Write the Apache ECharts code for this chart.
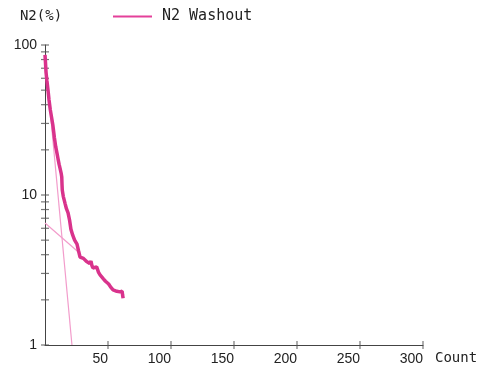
<!DOCTYPE html>
<html>
<head>
<meta charset="utf-8">
<script src="https://cdn.jsdelivr.net/npm/echarts@6/dist/echarts.min.js"></script>
<style>html,body{margin:0;padding:0;background:#fff}#c{width:482px;height:369px}</style>
</head>
<body>
<div id="c"></div>
<script>
// Data
var washCount = [0,0.4,0.8,1.5,2.4,3.2,4.2,5.2,6.3,7.5,8.5,9.5,10.3,11.2,12.0,12.8,13.3,13.5,13.7,14.5,15.9,17.0,18.3,19.5,20.6,22.0,23.5,25.4,26.6,27.8,29.0,30.5,31.7,33.0,34.1,35.5,36.5,37.2,38.0,39.5,41.0,42.5,43.7,45.0,46.5,48.0,49.0,50.5,52.0,53.0,54.0,55.5,57.0,58.5,59.5,60.5,61.2,61.6,62.0];
var washN2 =    [86,76,66,58,50,43,37,33,29,24,21,19,17.5,16,15,14,13.2,11.8,10.8,9.8,8.8,8.1,7.6,6.8,5.9,5.4,5.0,4.7,4.25,3.86,3.82,3.78,3.8,3.6,3.52,3.5,3.62,3.4,3.26,3.22,3.32,3.05,2.93,2.85,2.75,2.66,2.59,2.55,2.44,2.42,2.33,2.35,2.28,2.3,2.26,2.32,2.28,2.15,2.05];
var fastCount = [0, 21.4];
var fastN2 = [86, 1];
var slowCount = [0, 26];
var slowN2 = [6.5, 4.2];
var xTickValues = [50,100,150,200,250,300];
var yTickValues = [1,2,3,4,5,6,7,8,9,10,20,30,40,50,60,70,80,90,100];

function zip(a,b){return a.map(function(v,i){return [v,b[i]];});}

var chart = echarts.init(document.getElementById('c'));
var txt = '#222';
chart.setOption({
  animation:false,
  backgroundColor:'#fff',
  grid:{left:45,right:59,top:45,bottom:24},
  legend:{
    data:['N2 Washout'], left:113, top:9, padding:0,
    icon:'rect', itemWidth:39, itemHeight:2, itemGap:10,
    textStyle:{fontFamily:'DejaVu Sans Mono', fontSize:15, color:txt, padding:[0,0,0,5]}
  },
  xAxis:{
    type:'value', min:0, max:300, interval:50,
    name:'Count', nameLocation:'end', nameGap:12,
    nameTextStyle:{fontFamily:'DejaVu Sans Mono', fontSize:14, color:txt, verticalAlign:'top', padding:[6,0,0,0]},
    axisLine:{lineStyle:{color:'#444',width:1}},
    axisTick:{show:false}, splitLine:{show:false},
    axisLabel:{fontFamily:'Liberation Sans', fontSize:14, color:txt, align:'right', margin:7,
      formatter:function(v){return v===0?'':String(v);}}
  },
  yAxis:{
    type:'log', logBase:10, min:1, max:100,
    name:'N2(%)', nameLocation:'end', nameGap:22,
    nameTextStyle:{fontFamily:'DejaVu Sans Mono', fontSize:14, color:txt, padding:[0,8,0,0]},
    axisLine:{lineStyle:{color:'#444',width:1}},
    axisTick:{show:false}, splitLine:{show:false}, minorTick:{show:false},
    axisLabel:{fontFamily:'Liberation Sans', fontSize:14, color:txt, margin:8}
  },
  series:[
    {name:'yticks', type:'scatter', data:yTickValues.map(function(v){return [0,v];}),
      symbol:'rect', symbolSize:[8,1.2], itemStyle:{color:'#555'}, clip:false, silent:true, z:1},
    {name:'xticks', type:'scatter', data:xTickValues.map(function(v){return [v,1];}),
      symbol:'rect', symbolSize:[1.2,8], itemStyle:{color:'#555'}, clip:false, silent:true, z:1},
    {name:'fast', type:'line', data:zip(fastCount,fastN2), showSymbol:false,
      lineStyle:{color:'#f29ccb', width:1.2}, z:2},
    {name:'slow', type:'line', data:zip(slowCount,slowN2), showSymbol:false,
      lineStyle:{color:'#f29ccb', width:1.2}, z:2},
    {name:'N2 Washout', type:'line', data:zip(washCount,washN2), showSymbol:false,
      itemStyle:{color:'#e4409a'},
      lineStyle:{color:'#d9338c', width:3.5}, z:3}
  ]
});
</script>
</body>
</html>
